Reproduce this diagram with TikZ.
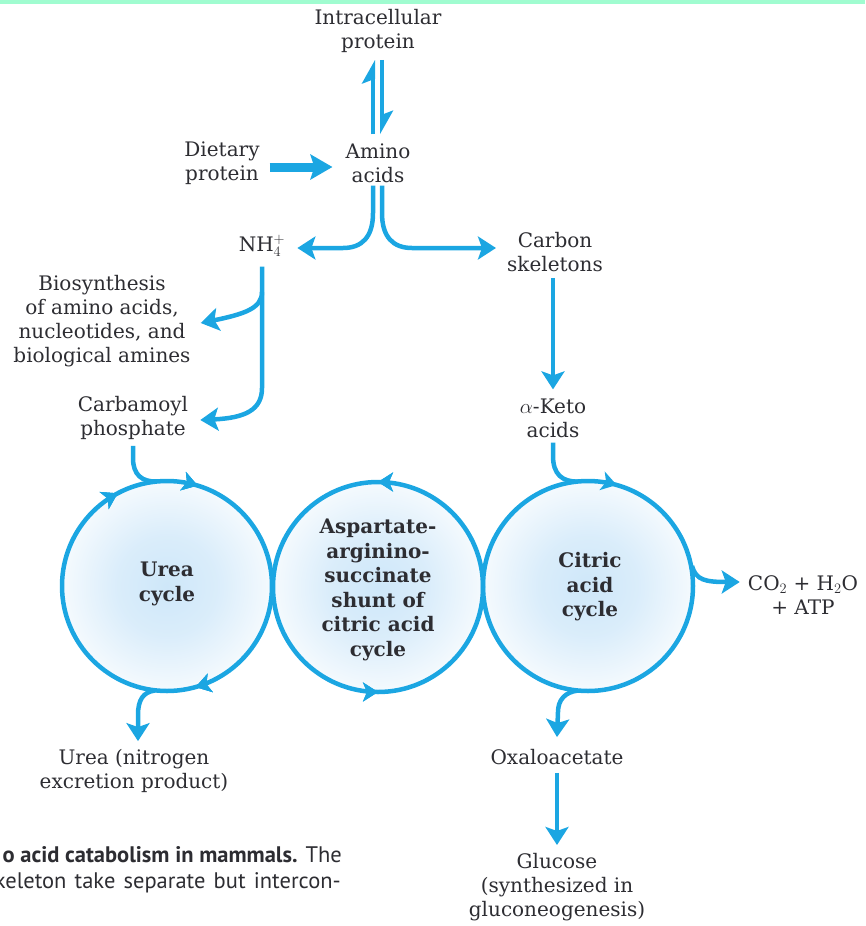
\documentclass[tikz,border=0pt]{standalone}
\usepackage{fontspec}
\setmainfont{DejaVu Serif}
\setsansfont{PT Sans}
\usetikzlibrary{arrows.meta,decorations.markings}
\definecolor{flow}{RGB}{27,166,226}
\definecolor{mint}{RGB}{160,252,208}
\definecolor{cyc}{RGB}{206,231,249}
\definecolor{ink}{RGB}{45,45,50}
\pgfdeclareradialshading{cycleshade}{\pgfpoint{0bp}{0bp}}{color(0bp)=(cyc); color(12bp)=(cyc!75!white); color(30bp)=(white); color(50bp)=(white)}
\begin{document}
\begin{tikzpicture}[x=1pt,y=1pt,
  lbl/.style={align=center, font=\fontsize{20}{24}\selectfont, inner sep=0pt, text=ink},
  cyclbl/.style={align=center, font=\fontsize{20}{24.6}\selectfont\bfseries, inner sep=0pt, text=ink},
  cycnode/.style={circle, minimum size=210pt, inner sep=0pt, shading=cycleshade},
  flowline/.style={draw=flow, line width=4.5pt},
  tip/.style={-{Stealth[length=18pt,width=23pt,inset=4pt]}},
  harp/.style={-{Stealth[harpoon,length=20pt,width=22pt,inset=4pt]}},
  ring/.style={draw=flow, line width=4.5pt},
  cw/.style={postaction={decorate}, decoration={markings, mark=at position #1 with {\arrowreversed{Stealth[length=15pt,width=19pt,inset=4pt]}}}},
  ccw/.style={postaction={decorate}, decoration={markings, mark=at position #1 with {\arrow{Stealth[length=15pt,width=19pt,inset=4pt]}}}}
]
\useasboundingbox (0,0) rectangle (865,-926);
\fill[mint] (0,0) rectangle (865,-4);

% text nodes
\node[lbl] (ip) at (378,-31) {Intracellular\\protein};
\node[lbl] (aa) at (378,-163) {Amino\\acids};
\node[lbl] (dp) at (222,-163) {Dietary\\protein};
\node[lbl] (nh) at (262,-246) {NH$_4^+$};
\node[lbl] (cs) at (555,-252) {Carbon\\skeletons};
\node[lbl] (bio) at (102,-321) {Biosynthesis\\of amino acids,\\nucleotides, and\\biological amines};
\node[lbl] (cp) at (133,-418) {Carbamoyl\\phosphate};
\node[lbl] (ka) at (553,-418) {$\alpha$-Keto\\acids};
\node[lbl] (co) at (803,-595) {CO$_2$ + H$_2$O\\+ ATP};
\node[lbl] (ur) at (134,-771) {Urea (nitrogen\\excretion product)};
\node[lbl] (ox) at (557,-757) {Oxaloacetate};
\node[lbl] (gl) at (557,-887) {Glucose\\(synthesized in\\gluconeogenesis)};

% cycles
\node[cycnode] (uc) at (167,-586) {};
\node[cycnode] (as) at (378,-587) {};
\node[cycnode] (ca) at (588,-586) {};
\node[cyclbl] at ([yshift=2pt]uc.center) {Urea\\cycle};
\node[cyclbl] at ([yshift=-3pt]as.center) {Aspartate-\\arginino-\\succinate\\shunt of\\citric acid\\cycle};
\node[cyclbl] at ([xshift=2pt,yshift=-1pt]ca.center) {Citric\\acid\\cycle};

\draw[ring, cw=0.203, cw=0.328, cw=0.794] (uc.center) circle[radius=105pt];
\draw[ring, ccw=0.25, ccw=0.75] (as.center) circle[radius=105pt];
\draw[ring, cw=0.206] (ca.center) circle[radius=105pt];

% top connectors
\draw[flowline, harp] ([xshift=-5pt,yshift=9pt]aa.north) -- ([xshift=-5pt,yshift=-7pt]ip.south);
\draw[flowline, harp] ([xshift=4pt,yshift=-7pt]ip.south) -- ([xshift=4pt,yshift=9pt]aa.north);
\draw[draw=flow, line width=9pt, -{Stealth[length=22pt,width=25pt,inset=4pt]}] ([xshift=10pt,yshift=-4pt]dp.east) -- ([xshift=-13pt,yshift=-4pt]aa.west);
\draw[flowline, tip] ([xshift=-5pt,yshift=-3pt]aa.south) -- (373,-213) .. controls (373,-237) and (362,-248) .. (343,-248) -- ([xshift=12pt,yshift=-2pt]nh.east);
\draw[flowline, tip] ([xshift=4pt,yshift=-3pt]aa.south) -- (382,-213) .. controls (382,-237) and (393,-248) .. (412,-248) -- ([xshift=-11pt,yshift=4pt]cs.west);
\draw[flowline, tip] ([yshift=-10pt]nh.south) -- (262,-388) .. controls (262,-410) and (245,-418) .. ([xshift=12pt,yshift=-2pt]cp.east);
\draw[flowline, tip] (262,-292) .. controls (262,-308) and (245,-314) .. ([xshift=10pt,yshift=-2pt]bio.east);
\draw[flowline, tip] ([xshift=-2pt,yshift=-6pt]cs.south) -- ([yshift=9pt]ka.north);

% into and out of the cycles
\draw[flowline] ([yshift=-6pt]cp.south) -- (133,-458) .. controls (133,-475) and (142,-482) .. (157,-481.5);
\draw[flowline] ([yshift=-5pt]ka.south) -- (553,-456) .. controls (553,-474) and (562,-482) .. (578,-481.5);
\draw[flowline, tip] (155,-690.5) .. controls (143,-692) and (138,-700) .. (138,-715) -- ([xshift=4pt,yshift=8pt]ur.north);
\draw[flowline, tip] (578,-690.5) .. controls (565,-692) and (558,-700) .. (558,-712) -- ([yshift=12pt]ox.north);
\draw[flowline, tip] (692,-566) .. controls (696,-580) and (705,-582) .. ([xshift=-8pt,yshift=13pt]co.west);
\draw[flowline, tip] ([yshift=-8pt]ox.south) -- ([yshift=8pt]gl.north);

% clipped caption fragment
\begin{scope}
\clip (0,0) rectangle (865,-926);
\node[anchor=base east, inner sep=0pt, font=\sffamily\fontsize{22.5}{27}\selectfont, text=ink] (cap1) at (342,-862) {\textbf{o acid catabolism in mammals.} The};
\node[anchor=base east, inner sep=0pt, font=\sffamily\fontsize{22.5}{27}\selectfont, text=ink] (cap2) at (341,-888) {\makebox[346pt][s]{keleton take separate but intercon-}};
\end{scope}
\end{tikzpicture}
\end{document}
